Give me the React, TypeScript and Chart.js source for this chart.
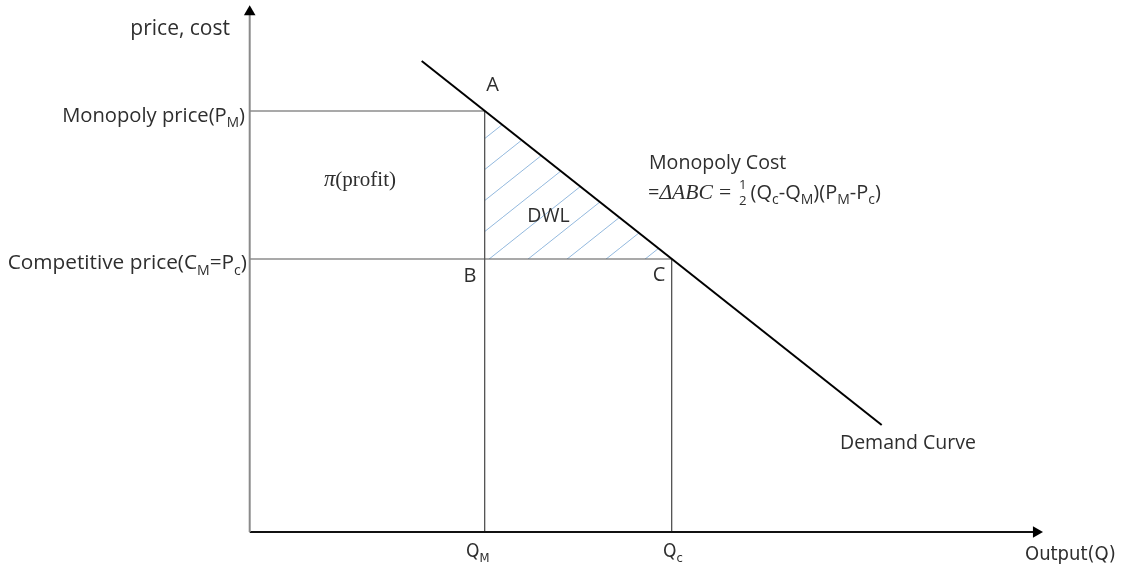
import React, { useEffect, useRef } from "react";
import { Chart, registerables } from "chart.js";

Chart.register(...registerables);

// ---- schematic values (1 unit ≈ 10 px of the reference) ----
const QM = 23.5; // monopoly output
const QC = 42.2; // competitive output
const PM = 42.1; // monopoly price
const PC = 27.3; // competitive price
const demandQ = [17.2, 63.2];
const demandP = [47.1, 10.7];
const Y_AXIS_TOP = 52.0;
const X_AXIS_END = 78.66;

// view window
const X_MIN = -24.97;
const X_MAX = 87.43;
const Y_MIN = -3.5;
const Y_MAX = 53.2;

const SANS = '"Open Sans", "Noto Sans", sans-serif';
const COND = '"DejaVu Sans Condensed", "DejaVu Sans", sans-serif';
const SERIF = '"Liberation Serif", serif';
const TEXT = "#2e2e2e";

type Run = { t: string; k?: "sub" | "mi" | "mr" | "frac" | "gap" };
type Label = {
  at: [number, number];
  dx: number;
  dy: number;
  align: "left" | "right" | "center";
  size: number;
  fam: string;
  sub?: number;
  runs: Run[];
};

const labels: Label[] = [
  { at: [0, Y_AXIS_TOP], dx: -19.7, dy: 15.3, align: "right", size: 21, fam: SANS, runs: [{ t: "price, cost" }] },
  { at: [0, PM], dx: -4.7, dy: 4, align: "right", size: 20.2, fam: SANS, sub: 0.68, runs: [{ t: "Monopoly price(P" }, { t: "M", k: "sub" }, { t: ")" }] },
  { at: [0, PC], dx: -2.7, dy: 3, align: "right", size: 20.8, fam: SANS, sub: 0.68, runs: [{ t: "Competitive price(C" }, { t: "M", k: "sub" }, { t: "=P" }, { t: "c", k: "sub" }, { t: ")" }] },
  { at: [QM, PM], dx: 7.8, dy: -27, align: "center", size: 20, fam: SANS, runs: [{ t: "A" }] },
  { at: [QM, PC], dx: -14.7, dy: 16, align: "center", size: 20, fam: SANS, runs: [{ t: "B" }] },
  { at: [QC, PC], dx: -12.7, dy: 15, align: "center", size: 20, fam: SANS, runs: [{ t: "C" }] },
  { at: [QM, PC], dx: 63.8, dy: -44, align: "center", size: 19.5, fam: SANS, runs: [{ t: "DWL" }] },
  { at: [0, PM], dx: 110.3, dy: 67, align: "center", size: 21, fam: SERIF, runs: [{ t: "π", k: "mi" }, { t: "(profit)" }] },
  { at: [QC, PC], dx: -22.7, dy: -97, align: "left", size: 19.6, fam: SANS, runs: [{ t: "Monopoly Cost" }] },
  {
    at: [QC, PC], dx: -23.7, dy: -67, align: "left", size: 20, fam: SANS, sub: 0.7,
    runs: [
      { t: "=" }, { t: "ΔABC", k: "mi" }, { t: "6", k: "gap" }, { t: "=", k: "mr" }, { t: "7", k: "gap" },
      { t: "1/2", k: "frac" }, { t: "3", k: "gap" },
      { t: "(Q" }, { t: "c", k: "sub" }, { t: "-Q" }, { t: "M", k: "sub" }, { t: ")(P" }, { t: "M", k: "sub" },
      { t: "-P" }, { t: "c", k: "sub" }, { t: ")" },
    ],
  },
  { at: [demandQ[1], demandP[1]], dx: -41.7, dy: 16.7, align: "left", size: 19.5, fam: SANS, runs: [{ t: "Demand Curve" }] },
  { at: [QM, 0], dx: -18.7, dy: 18, align: "left", size: 19, fam: COND, sub: 0.68, runs: [{ t: "Q" }, { t: "M", k: "sub" }] },
  { at: [QC, 0], dx: -8.7, dy: 18, align: "left", size: 19, fam: COND, sub: 0.68, runs: [{ t: "Q" }, { t: "c", k: "sub" }] },
  { at: [X_AXIS_END, 0], dx: -11.3, dy: 21, align: "left", size: 20, fam: COND, runs: [{ t: "Output(Q)" }] },
];

function runFont(r: Run, L: Label): string {
  const size = L.size;
  const sub = L.sub ?? 0.62;
  if (r.k === "sub") return `${(size * sub).toFixed(1)}px ${L.fam}`;
  if (r.k === "mi") return `italic ${(size * 1.08).toFixed(1)}px ${SERIF}`;
  if (r.k === "mr") return `${(size * 1.08).toFixed(1)}px ${SERIF}`;
  if (r.k === "frac") return `${(size * 0.66).toFixed(1)}px ${L.fam}`;
  return `${size}px ${L.fam}`;
}

const labelPlugin = {
  id: "diagramLabels",
  afterDatasetsDraw(chart: any) {
    const ctx: CanvasRenderingContext2D = chart.ctx;
    const xs = chart.scales.x;
    const ys = chart.scales.y;
    ctx.save();
    ctx.fillStyle = TEXT;
    ctx.textBaseline = "alphabetic";
    ctx.textAlign = "left";
    for (const L of labels) {
      const cx = xs.getPixelForValue(L.at[0]) + L.dx;
      const cy = ys.getPixelForValue(L.at[1]) + L.dy;
      const widths = L.runs.map((r) => {
        if (r.k === "gap") return parseFloat(r.t);
        ctx.font = runFont(r, L);
        if (r.k === "frac") {
          const [a, b] = r.t.split("/");
          return Math.max(ctx.measureText(a).width, ctx.measureText(b).width) + 2;
        }
        return ctx.measureText(r.t).width;
      });
      const total = widths.reduce((s, w) => s + w, 0);
      let x = L.align === "left" ? cx : L.align === "right" ? cx - total : cx - total / 2;
      const base = cy + L.size * 0.36;
      L.runs.forEach((r, i) => {
        const w = widths[i];
        if (r.k !== "gap") {
          ctx.font = runFont(r, L);
          if (r.k === "sub") {
            ctx.fillText(r.t, x, base + L.size * 0.25);
          } else if (r.k === "frac") {
            const [a, b] = r.t.split("/");
            const wa = ctx.measureText(a).width;
            const wb = ctx.measureText(b).width;
            ctx.fillText(a, x + (w - wa) / 2, cy - 3);
            ctx.fillText(b, x + (w - wb) / 2, cy + 13);
          } else {
            ctx.fillText(r.t, x, base);
          }
        }
        x += w;
      });
    }
    ctx.restore();
  },
};

function makeHatch(): CanvasPattern | string {
  const w = 39;
  const h = 31;
  const c = document.createElement("canvas");
  c.width = w;
  c.height = h;
  const g = c.getContext("2d");
  if (!g) return "rgba(140,180,220,0.3)";
  g.strokeStyle = "#93b9de";
  g.lineWidth = 1;
  g.beginPath();
  for (let k = -1; k <= 1; k++) {
    g.moveTo(k * w, h);
    g.lineTo(k * w + w, 0);
  }
  g.stroke();
  const p = g.createPattern(c, "repeat");
  if (!p) return "rgba(140,180,220,0.3)";
  try {
    p.setTransform(new DOMMatrix().translate(-4, 0));
  } catch (e) {
    /* ignore */
  }
  return p;
}

const seg = (x1: number, y1: number, x2: number, y2: number) => [
  { x: x1, y: y1 },
  { x: x2, y: y2 },
];

export default function App() {
  const ref = useRef<HTMLCanvasElement | null>(null);

  useEffect(() => {
    if (!ref.current) return;
    const gray = "#555555";
    const thin = 1.2;
    const line = (data: any[], color: string, width: number, order: number) => ({
      data,
      showLine: true,
      borderColor: color,
      borderWidth: width,
      pointRadius: 0,
      fill: false,
      order,
    });
    const chart = new Chart(ref.current, {
      type: "scatter",
      data: {
        datasets: [
          {
            data: [
              { x: QM, y: PM },
              { x: QC, y: PC },
            ],
            showLine: true,
            borderWidth: 0,
            borderColor: "rgba(0,0,0,0)",
            pointRadius: 0,
            backgroundColor: makeHatch() as any,
            fill: { value: PC },
            order: 20,
          } as any,
          line(seg(0, PM, QM, PM), gray, thin, 10),
          line(seg(0, PC, QC, PC), gray, thin, 10),
          line(seg(QM, 0, QM, PM), "#444444", thin, 10),
          line(seg(QC, 0, QC, PC), "#444444", thin, 10),
          line(seg(0, 0, 0, Y_AXIS_TOP), "#8a8a8a", 2, 5),
          line(seg(0, 0, X_AXIS_END, 0), "#111111", 1.8, 5),
          line(seg(demandQ[0], demandP[0], demandQ[1], demandP[1]), "#000000", 2, 3),
          {
            data: [{ x: 0, y: Y_AXIS_TOP }],
            pointStyle: "triangle",
            rotation: 0,
            pointRadius: 6.7,
            backgroundColor: "#000",
            borderColor: "#000",
            borderWidth: 0,
            order: 1,
          } as any,
          {
            data: [{ x: X_AXIS_END, y: 0 }],
            pointStyle: "triangle",
            rotation: 90,
            pointRadius: 6.7,
            backgroundColor: "#000",
            borderColor: "#000",
            borderWidth: 0,
            order: 1,
          } as any,
        ],
      },
      options: {
        responsive: false,
        animation: false,
        events: [],
        layout: { padding: 0, autoPadding: false },
        plugins: {
          legend: { display: false },
          tooltip: { enabled: false },
        },
        scales: {
          x: { type: "linear", display: false, min: X_MIN, max: X_MAX },
          y: { type: "linear", display: false, min: Y_MIN, max: Y_MAX },
        },
      } as any,
      plugins: [labelPlugin],
    });
    return () => chart.destroy();
  }, []);

  return (
    <canvas
      ref={ref}
      width={1124}
      height={567}
      style={{ position: "absolute", left: 0, top: 0, width: 1124, height: 567, display: "block", background: "#fff" }}
    />
  );
}
